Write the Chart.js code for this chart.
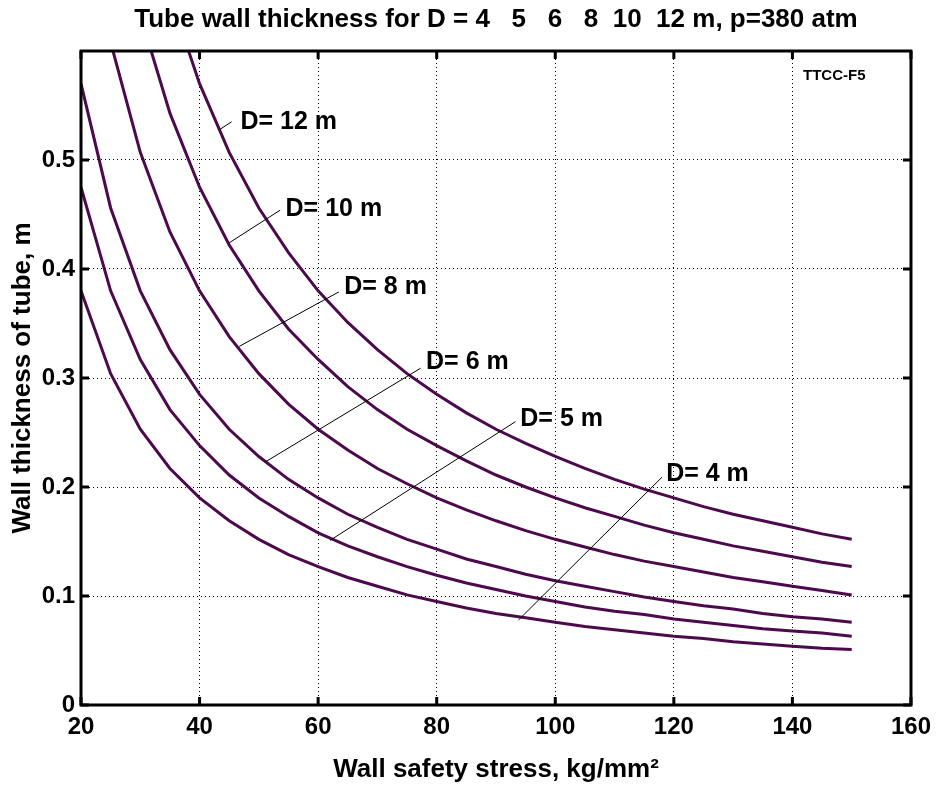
<!DOCTYPE html>
<html>
<head>
<meta charset="utf-8">
<script src="https://cdn.jsdelivr.net/npm/chart.js@4.4.0/dist/chart.umd.min.js"></script>
<style>
  html, body { margin: 0; padding: 0; background: #fff; }
</style>
</head>
<body>
<canvas id="myChart" width="939" height="787"></canvas>
<script>
'use strict';

// data
let stress = [20, 25, 30, 35, 40, 45, 50, 55, 60, 65, 70, 75, 80, 85, 90, 95, 100, 105, 110, 115, 120, 125, 130, 135, 140, 145, 150];
let d4  = [0.380, 0.304, 0.253, 0.217, 0.190, 0.169, 0.152, 0.138, 0.127, 0.117, 0.109, 0.101, 0.095, 0.089, 0.084, 0.080, 0.076, 0.072, 0.069, 0.066, 0.063, 0.061, 0.058, 0.056, 0.054, 0.052, 0.051];
let d5  = [0.475, 0.380, 0.317, 0.271, 0.238, 0.211, 0.190, 0.173, 0.158, 0.146, 0.136, 0.127, 0.119, 0.112, 0.106, 0.100, 0.095, 0.090, 0.086, 0.083, 0.079, 0.076, 0.073, 0.070, 0.068, 0.066, 0.063];
let d6  = [0.570, 0.456, 0.380, 0.326, 0.285, 0.253, 0.228, 0.207, 0.190, 0.175, 0.163, 0.152, 0.143, 0.134, 0.127, 0.120, 0.114, 0.109, 0.104, 0.099, 0.095, 0.091, 0.088, 0.084, 0.081, 0.079, 0.076];
let d8  = [0.760, 0.608, 0.507, 0.434, 0.380, 0.338, 0.304, 0.276, 0.253, 0.234, 0.217, 0.203, 0.190, 0.179, 0.169, 0.160, 0.152, 0.145, 0.138, 0.132, 0.127, 0.122, 0.117, 0.113, 0.109, 0.105, 0.101];
let d10 = [0.950, 0.760, 0.633, 0.543, 0.475, 0.422, 0.380, 0.345, 0.317, 0.292, 0.271, 0.253, 0.238, 0.224, 0.211, 0.200, 0.190, 0.181, 0.173, 0.165, 0.158, 0.152, 0.146, 0.141, 0.136, 0.131, 0.127];
let d12 = [1.140, 0.912, 0.760, 0.651, 0.570, 0.507, 0.456, 0.415, 0.380, 0.351, 0.326, 0.304, 0.285, 0.268, 0.253, 0.240, 0.228, 0.217, 0.207, 0.198, 0.190, 0.182, 0.175, 0.169, 0.163, 0.157, 0.152];

let xTickVals = [20, 40, 60, 80, 100, 120, 140, 160];
let yTickVals = [0, 0.1, 0.2, 0.3, 0.4, 0.5];

// curve labels, leader lines in data units
let labelText = ['D= 12 m', 'D= 10 m', 'D= 8 m', 'D= 6 m', 'D= 5 m', 'D= 4 m'];
let leaderFrom = [[43.4, 0.528], [45.0, 0.424], [46.7, 0.329], [51.1, 0.223], [62.0, 0.151], [93.8, 0.078]];
let leaderTo = [[45.4, 0.535], [53.6, 0.454], [63.5, 0.379], [77.3, 0.309], [93.3, 0.260], [118.0, 0.209]];
let labelAt = [[46.9, 0.535], [54.5, 0.455], [64.4, 0.383], [78.2, 0.315], [94.1, 0.262], [118.7, 0.212]];

let titleText = 'Tube wall thickness for D = 4   5   6   8  10  12 m, p=380 atm';
let curveColor = '#4c0a4c';
let fontName = '"Liberation Sans", Arial, sans-serif';

function toPoints(ys) {
    let pts = [];
    for (let i = 0; i < stress.length; i++) {
        pts.push({x: stress[i], y: ys[i]});
    }
    return pts;
}

let allCurves = [d4, d5, d6, d8, d10, d12];
let datasets = allCurves.map(function (ys) {
    return {
        data: toPoints(ys),
        borderColor: curveColor,
        borderWidth: 3,
        pointRadius: 0,
        tension: 0,
        fill: false
    };
});

// box + inward ticks + title like the original
let framePlugin = {
    id: 'frame',
    afterDraw(chart) {
        let ctx = chart.ctx;
        let a = chart.chartArea;
        let xs = chart.scales.x;
        let ys = chart.scales.y;
        ctx.save();
        ctx.strokeStyle = '#000';
        ctx.lineWidth = 3;
        ctx.beginPath();
        xTickVals.forEach(function (v) {
            let px = xs.getPixelForValue(v);
            ctx.moveTo(px, a.bottom); ctx.lineTo(px, a.bottom - 8);
            ctx.moveTo(px, a.top); ctx.lineTo(px, a.top + 8);
        });
        yTickVals.forEach(function (v) {
            let py = ys.getPixelForValue(v);
            ctx.moveTo(a.left, py); ctx.lineTo(a.left + 8, py);
            ctx.moveTo(a.right, py); ctx.lineTo(a.right - 8, py);
        });
        ctx.stroke();
        ctx.strokeRect(a.left, a.top, a.right - a.left, a.bottom - a.top);

        ctx.fillStyle = '#000';
        ctx.textBaseline = 'middle';
        ctx.textAlign = 'center';
        ctx.font = 'bold 26px ' + fontName;
        ctx.fillText(titleText, (a.left + a.right) / 2, 20);

        ctx.font = 'bold 15px ' + fontName;
        ctx.textAlign = 'left';
        ctx.fillText('TTCC-F5', 803, 76);
        ctx.restore();
    }
};

let labelPlugin = {
    id: 'curveLabels',
    afterDatasetsDraw(chart) {
        let ctx = chart.ctx;
        let xs = chart.scales.x;
        let ys = chart.scales.y;
        ctx.save();
        ctx.strokeStyle = '#000';
        ctx.lineWidth = 1;
        for (let i = 0; i < labelText.length; i++) {
            ctx.beginPath();
            ctx.moveTo(xs.getPixelForValue(leaderFrom[i][0]), ys.getPixelForValue(leaderFrom[i][1]));
            ctx.lineTo(xs.getPixelForValue(leaderTo[i][0]), ys.getPixelForValue(leaderTo[i][1]));
            ctx.stroke();
        }
        ctx.fillStyle = '#000';
        ctx.font = 'bold 25px ' + fontName;
        ctx.textBaseline = 'middle';
        ctx.textAlign = 'left';
        for (let i = 0; i < labelText.length; i++) {
            ctx.fillText(labelText[i], xs.getPixelForValue(labelAt[i][0]), ys.getPixelForValue(labelAt[i][1]));
        }
        ctx.restore();
    }
};

let chartObject = {
    type: 'line',
    data: { datasets: datasets },
    options: {
        responsive: false,
        animation: false,
        layout: { padding: { top: 51, right: 26, bottom: 0, left: 0 } },
        plugins: {
            legend: { display: false },
            tooltip: { enabled: false },
            title: { display: false }
        },
        scales: {
            x: {
                type: 'linear',
                min: 20,
                max: 160,
                afterBuildTicks: function (scale) {
                    scale.ticks = xTickVals.map(function (v) { return {value: v}; });
                },
                afterFit: function (scale) { scale.height = 82; },
                grid: { color: '#000', lineWidth: 1, drawTicks: false },
                border: { display: false, dash: [1, 3] },
                ticks: {
                    color: '#000',
                    padding: 8,
                    maxRotation: 0,
                    font: { family: fontName, size: 24, weight: 'bold' }
                },
                title: {
                    display: true,
                    text: 'Wall safety stress, kg/mm\u00b2',
                    color: '#000',
                    font: { family: fontName, size: 26, weight: 'bold', lineHeight: 1.2 },
                    padding: { top: 0, bottom: 2 }
                }
            },
            y: {
                type: 'linear',
                min: 0,
                max: 0.6,
                afterBuildTicks: function (scale) {
                    scale.ticks = yTickVals.map(function (v) { return {value: v}; });
                },
                afterFit: function (scale) { scale.width = 81; },
                grid: { color: '#000', lineWidth: 1, drawTicks: false },
                border: { display: false, dash: [1, 3] },
                ticks: {
                    color: '#000',
                    padding: 6,
                    font: { family: fontName, size: 24, weight: 'bold' },
                    callback: function (v) { return String(Math.round(v * 10) / 10); }
                },
                title: {
                    display: true,
                    text: 'Wall thickness of tube, m',
                    color: '#000',
                    font: { family: fontName, size: 26, weight: 'bold', lineHeight: 1.2 },
                    padding: { top: 7, bottom: 0 }
                }
            }
        }
    },
    plugins: [labelPlugin, framePlugin]
};

let ctx = document.getElementById('myChart').getContext('2d');
let myChart = new Chart(ctx, chartObject);
</script>
</body>
</html>
